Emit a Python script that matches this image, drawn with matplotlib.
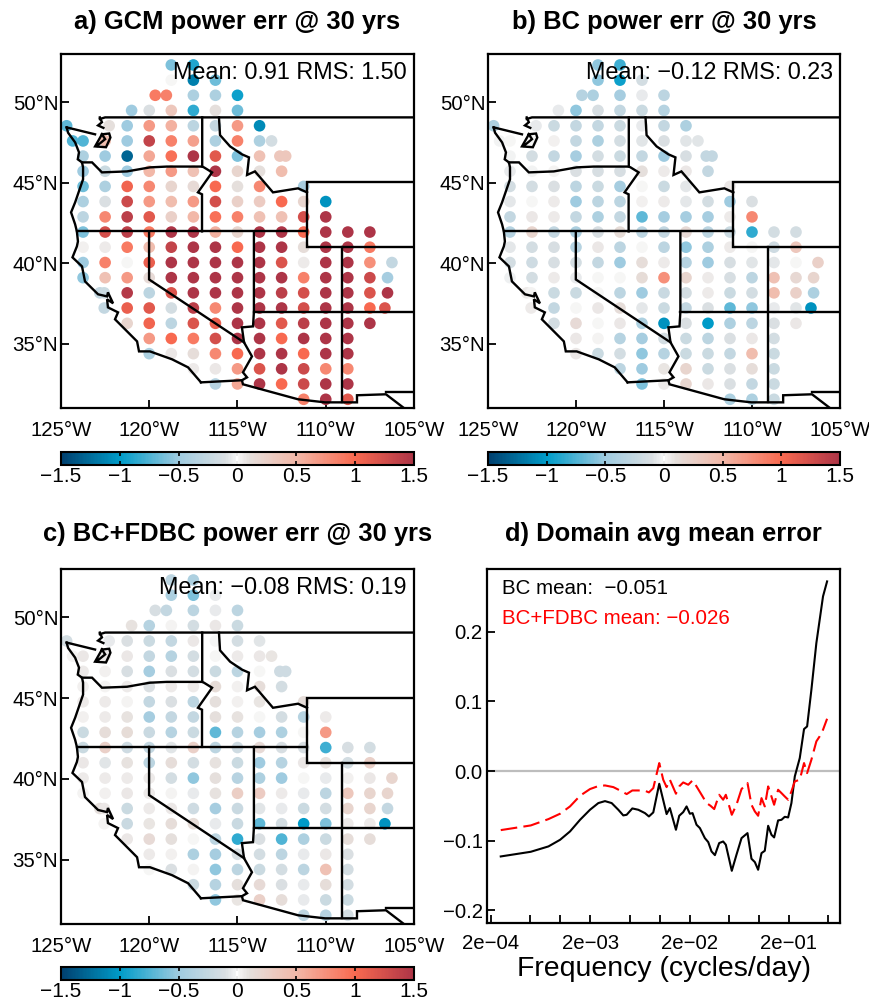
import numpy as np
import matplotlib
matplotlib.use('Agg')
import matplotlib.pyplot as plt
from matplotlib.colors import LinearSegmentedColormap, Normalize
from matplotlib.cm import ScalarMappable

plt.rcParams['font.family'] = ['Liberation Sans', 'DejaVu Sans']

W, H = 870, 1002

# grid rows, north to south
row_lats = [52.30, 51.36, 50.42, 49.48, 48.53, 47.59, 46.65, 45.71, 44.77, 43.83, 42.88, 41.94,
            41.00, 40.05, 39.11, 38.17, 37.23, 36.28, 35.34, 34.40, 33.46, 32.52, 31.57]
mid = [-121.25, -120, -118.75, -117.5, -116.25, -115, -113.75, -112.5, -111.25, -110, -108.75, -107.5]
row_lons = [
    [-118.75, -117.5],
    [-118.75, -117.5, -116.25],
    [-119.66, -119.03, -117.5, -116.25, -115],
    [-121.0, -120, -118.75, -117.5, -116.25, -115],
    [-124.68, -122.27, -121.25, -120, -118.75, -117.5, -116.25, -115, -113.75],
    [-124.34, -123.75, -122.5, -121.25, -120, -118.75, -117.5, -116.25, -115, -113.75, -113.07],
    [-123.75, -122.5, -121.25, -120, -118.75, -117.5, -116.25, -115, -113.75, -112.6, -112.27],
    [-123.75, -122.5, -121.25, -120, -118.75, -117.5, -116.25, -115, -113.75, -112.5],
    [-123.75, -122.5, -121.25, -120, -118.75, -117.5, -116.25, -115, -113.75, -111.25],
    [-123.75, -122.5] + mid[:10],
    [-123.75, -122.5] + mid[:10],
    [-123.75, -122.5] + mid,
    [-123.75, -122.5] + mid,
    [-123.75, -122.5] + mid + [-106.25],
    [-123.75, -122.5] + mid + [-106.5],
    [-122.8, -122.55] + mid + [-106.5],
    [-122.55] + mid + [-106.65],
    mid,
    mid[1:11],
    mid[1:11],
    mid[3:11],
    mid[4:11],
    mid[8:11],
]

gcm_vals = [
    [-0.6, -0.9],
    [0.0, -1.15, -0.65],
    [0.9, 0.85, -0.4, -0.4, -0.95],
    [-0.5, -0.1, 0.35, -0.85, 0.1, -0.65],
    [-0.7, 0.1, -0.5, 0.7, 0.55, -0.3, -0.25, 0.7, -1.1],
    [-0.75, -0.75, 0.45, -0.5, 1.35, 0.85, 0.65, -0.4, 0.85, -0.4, -0.15],
    [-0.4, -0.5, -1.3, 0.6, 0.95, 1.5, 1.15, -0.6, 0.4, 0.35, 0.35],
    [-0.5, -0.2, -0.5, 0.5, 0.7, 0.4, 1.5, 0.2, 0.1, 0.45],
    [-0.65, -0.4, 1.05, 0.8, 0.2, 0.15, 1.0, 0.1, 0.8, -0.45],
    [-0.4, -0.1, 1.3, 0.7, 0.45, 0.7, 1.25, 0.25, 0.3, 1.0, 0.2, -1.05],
    [-0.3, 0.8, 1.4, 1.15, 0.25, 0.5, 0.95, 0.85, 0.4, 0.4, 1.25, 1.5],
    [-0.6, 1.25, 1.4, 0.9, 1.5, 1.5, 0.55, 0.2, 1.5, 1.5, 1.0, 1.5, 1.5, 1.5],
    [0.03, 0.05, 0.9, 0.45, 1.35, 1.5, 1.5, 1.0, 1.5, 1.5, 0.12, 1.5, 1.5, 0.9],
    [-0.5, 0.85, 0.0, 1.1, 1.5, 1.5, 1.5, 1.5, 1.5, 1.2, 0.05, 1.5, 1.5, 0.75, -0.25],
    [-0.55, 0.4, 0.7, 0.15, 1.5, 1.5, 1.5, 1.5, 1.5, 1.5, 0.85, 1.5, 1.5, 1.3, -0.45],
    [-0.25, -0.2, 1.45, -0.3, 1.2, 1.5, 1.5, 1.5, 1.5, 1.4, 1.25, 1.5, 1.5, 1.2, 1.5],
    [-0.25, 1.1, 1.15, -0.15, 1.4, 0.8, 1.5, 1.5, 1.5, 1.25, 1.5, 1.5, 1.0, 1.2],
    [0.2, 1.05, -0.3, 1.2, 1.1, 1.5, 1.5, 1.15, 1.4, 1.5, 1.5, 1.5],
    [0.7, 1.0, 0.9, 1.25, 1.5, 1.5, 1.0, 1.5, 1.5, 1.5],
    [-0.4, 0.07, 0.12, 0.8, 1.0, 1.5, 1.5, 1.0, 1.5, 1.5],
    [0.05, 0.07, 0.7, 1.2, 1.5, 1.3, 0.8, 0.8],
    [-0.35, 0.6, 1.5, 1.0, 1.3, 1.5, 1.5],
    [0.85, 1.5, 1.15],
]

bc_vals = [
    [-0.55, -0.8],
    [-0.55, -0.95, -0.15],
    [-0.35, -0.4, -0.45, -0.05, -0.3],
    [-0.05, -0.55, -0.12, -0.25, -0.2, -0.35],
    [-0.4, -0.05, -0.2, -0.25, -0.25, -0.2, -0.05, -0.25, -0.4],
    [-0.02, 0.01, 0.0, 0.03, -0.25, -0.4, -0.15, -0.08, -0.1, -0.08, -0.08],
    [-0.02, -0.15, -0.25, -0.45, -0.15, -0.2, -0.25, -0.5, -0.12, -0.25, -0.25],
    [-0.05, -0.02, 0.02, -0.1, -0.12, -0.12, 0.1, 0.05, 0.06, -0.25],
    [-0.15, -0.15, -0.1, -0.3, -0.2, -0.45, 0.01, -0.2, -0.06, 0.07],
    [-0.06, 0.01, 0.05, -0.5, -0.3, -0.3, 0.03, 0.05, -0.06, -0.15, -0.5, -0.1],
    [-0.25, 0.07, 0.05, -0.25, -0.4, -0.25, -0.7, -0.45, -0.45, -0.45, 0.05, 0.8],
    [-0.35, 0.2, -0.25, -0.4, -0.12, 0.14, -0.3, -0.25, 0.15, -0.3, -0.2, -0.85, -0.15, -0.15],
    [-0.07, -0.15, -0.12, -0.35, 0.06, -0.3, 0.01, -0.3, -0.55, -0.4, 0.05, 0.01, -0.18, 0.35],
    [-0.15, -0.18, -0.12, -0.15, -0.25, -0.5, 0.12, 0.05, -0.35, -0.5, -0.12, -0.08, -0.07, 0.01, 0.25],
    [-0.03, -0.15, 0.05, -0.05, 0.0, 0.0, 0.14, 0.75, 0.2, 0.05, -0.12, -0.3, 0.4, 0.17, 0.2],
    [0.05, 0.02, -0.2, -0.2, 0.0, -0.3, -0.5, -0.22, -0.15, 0.05, -0.2, -0.15, 0.45, 0.25, -0.4],
    [0.05, -0.25, 0.01, 0.07, 0.12, -0.07, -0.2, -0.25, -0.1, -0.7, -0.55, -0.05, -0.08, -1.05],
    [-0.15, 0.15, 0.01, 0.06, -0.4, -1.05, -0.1, -1.0, -0.4, -0.3, -0.1, 0.07],
    [0.07, 0.02, -0.35, -0.45, -0.15, -0.2, -0.3, -0.1, 0.06, -0.15],
    [0.06, -0.2, -0.15, -0.55, -0.35, -0.2, -0.2, -0.25, 0.45, -0.2],
    [-0.3, -0.5, 0.08, 0.2, -0.2, -0.1, 0.12, -0.2],
    [-0.6, 0.05, 0.2, 0.07, -0.1, -0.25, -0.2],
    [-0.4, -0.4, -0.2],
]

fdbc_vals = [
    [-0.3, -0.4],
    [-0.4, -0.6, -0.05],
    [-0.12, -0.25, -0.3, -0.05, -0.3],
    [0.09, -0.35, 0.02, -0.15, 0.06, -0.2],
    [-0.15, -0.05, -0.1, -0.2, -0.25, 0.06, -0.01, -0.15, -0.08],
    [0.02, 0.07, 0.05, 0.07, -0.25, -0.35, -0.15, 0.01, 0.05, 0.07, 0.08],
    [0.05, 0.03, -0.12, -0.45, -0.1, -0.15, -0.2, -0.3, 0.01, -0.18, -0.18],
    [0.03, 0.02, 0.05, -0.1, 0.05, 0.05, 0.14, 0.03, 0.12, -0.15],
    [0.05, 0.05, 0.02, -0.25, -0.1, -0.3, 0.1, 0.03, 0.08, 0.12],
    [0.03, 0.05, 0.09, -0.45, -0.25, -0.25, 0.1, 0.09, 0.0, -0.15, -0.35, 0.05],
    [-0.2, 0.12, 0.14, -0.22, -0.35, -0.2, -0.7, -0.35, -0.45, -0.4, 0.01, 0.7],
    [-0.2, 0.25, -0.18, -0.25, -0.08, 0.25, -0.3, -0.18, 0.15, -0.12, -0.12, -0.8, -0.12, -0.15],
    [0.06, -0.08, 0.09, -0.3, 0.12, -0.15, 0.09, -0.2, -0.5, -0.35, 0.06, 0.09, -0.15, 0.25],
    [0.05, 0.05, 0.05, 0.05, -0.15, -0.55, 0.1, -0.33, -0.4, -0.5, 0.01, -0.05, 0.03, 0.06, 0.2],
    [0.02, 0.03, 0.06, 0.05, 0.02, -0.05, 0.09, 0.28, 0.3, 0.05, -0.05, -0.3, 0.35, 0.2, 0.2],
    [0.1, 0.06, -0.2, 0.05, 0.06, -0.18, -0.45, -0.22, -0.08, -0.05, -0.2, -0.15, 0.2, 0.2, -0.25],
    [0.02, -0.22, 0.08, 0.12, 0.14, -0.05, -0.22, -0.7, -0.15, -1.0, -0.6, 0.05, 0.05, -1.05],
    [0.07, 0.15, 0.1, 0.0, -0.3, -0.85, -0.1, -0.75, -0.4, -0.2, 0.12, 0.12],
    [0.05, 0.03, -0.4, -0.45, -0.12, -0.15, -0.3, -0.05, 0.07, -0.1],
    [0.0, -0.1, 0.02, -0.55, -0.3, -0.2, -0.15, -0.3, 0.4, -0.15],
    [-0.2, -0.35, 0.1, 0.15, -0.1, -0.05, 0.12, -0.15],
    [-0.55, 0.08, 0.25, 0.12, -0.05, -0.2, -0.2],
    [-0.3, -0.35, -0.15],
]

# coast and state lines as (lon, lat)
outlines = [
    # west coast, top to Mexico
    [(-124.68, 48.43), (-124.6, 48.1), (-124.2, 47.5), (-123.98, 46.88), (-124.05, 46.45), (-123.81, 46.26),
     (-123.75, 45.95), (-123.75, 45.21), (-124.2, 43.78), (-124.43, 43.16), (-124.2, 42.42), (-124.1, 41.98),
     (-124.04, 41.36), (-124.1, 41.05), (-124.35, 40.37), (-123.81, 39.81), (-123.64, 38.88), (-122.9, 38.08),
     (-122.39, 37.95), (-122.34, 38.2), (-122.05, 37.52), (-122.39, 37.77), (-122.34, 37.27), (-121.77, 36.96),
     (-121.94, 36.53), (-120.69, 35.16), (-120.58, 34.54), (-119.96, 34.54), (-118.71, 34.05), (-117.8, 33.55),
     (-117.07, 32.62)],
    # strait and sound
    [(-124.68, 48.43), (-123.07, 48.0)],
    [(-122.8, 49.05), (-122.68, 48.75), (-122.9, 48.55), (-122.6, 48.4)],
    [(-122.68, 48.0), (-122.27, 48.05), (-122.2, 47.8), (-122.45, 47.2), (-123.07, 47.25), (-122.68, 48.0),
     (-122.5, 47.7), (-122.95, 47.3)],
    # Canada border
    [(-122.8, 48.95), (-122.5, 49.05), (-105, 49.05)],
    # Washington / Oregon / Idaho
    [(-123.81, 46.26), (-123.24, 46.26), (-122.68, 45.64), (-121.26, 45.7), (-119.96, 45.95), (-119.0, 46.0),
     (-117.01, 46.0)],
    [(-117.0, 49.05), (-117.0, 46.0), (-116.9, 45.95), (-116.44, 45.64), (-117.24, 44.4), (-117.01, 44.28),
     (-117.01, 41.98)],
    # 42N
    [(-124.1, 41.98), (-111.06, 41.98)],
    # Idaho / Montana / Wyoming
    [(-116.05, 49.05), (-115.99, 47.95), (-115.42, 47.25), (-114.75, 46.76), (-114.35, 46.57), (-114.46, 45.48),
     (-114.01, 45.7), (-112.99, 44.4), (-111.57, 44.65), (-111.06, 44.4)],
    # Wyoming box
    [(-105, 45.02), (-111.06, 45.02), (-111.06, 40.99), (-105, 40.99)],
    # Nevada / California
    [(-120.01, 41.98), (-120.01, 39.0), (-114.63, 35.1)],
    # Nevada / Utah / Arizona
    [(-114.07, 41.98), (-114.07, 37.0), (-114.12, 36.09), (-114.75, 36.03), (-114.63, 35.1), (-114.18, 34.23),
     (-114.69, 33.24), (-114.46, 32.93), (-114.75, 32.75)],
    # 37N
    [(-114.07, 36.98), (-105, 36.98)],
    # Colorado / New Mexico
    [(-109.08, 40.99), (-109.08, 31.38)],
    # Mexico border
    [(-117.07, 32.62), (-114.75, 32.75), (-114.69, 32.5), (-111.57, 31.57), (-110.04, 31.38), (-108.23, 31.38),
     (-108.23, 31.82), (-106.59, 31.88), (-105.62, 31.07)],
    [(-106.59, 32.0), (-105, 32.0)],
]

# panel d, log10 of frequency and mean error
bc_logf = [-3.599, -3.297, -3.119, -3.002, -2.902, -2.801, -2.701, -2.617, -2.550, -2.483, -2.416, -2.366, -2.332,
           -2.275, -2.215, -2.148, -2.108, -2.064, -2.004, -1.930, -1.897, -1.836, -1.803, -1.763, -1.729, -1.696,
           -1.669, -1.629, -1.595, -1.545, -1.511, -1.478, -1.444, -1.401, -1.361, -1.334, -1.274, -1.227, -1.176,
           -1.116, -1.076, -1.042, -1.009, -0.975, -0.942, -0.908, -0.875, -0.848, -0.808, -0.774, -0.741, -0.707,
           -0.674, -0.640, -0.590, -0.547, -0.516, -0.473, -0.423, -0.356, -0.315]
bc_err = [-0.1225, -0.1158, -0.1081, -0.0986, -0.0866, -0.0699, -0.0555, -0.0459, -0.0431, -0.0459, -0.0555, -0.0636,
          -0.0627, -0.0536, -0.0555, -0.0603, -0.0651, -0.0593, -0.0182, -0.0617, -0.0531, -0.0842, -0.0641, -0.0589,
          -0.0507, -0.0612, -0.0603, -0.0770, -0.0818, -0.0962, -0.1019, -0.1153, -0.1206, -0.1033, -0.1010, -0.1057,
          -0.1431, -0.1201, -0.0962, -0.0890, -0.1258, -0.1306, -0.1416, -0.1177, -0.1144, -0.0785, -0.0914, -0.0952,
          -0.0708, -0.0699, -0.0656, -0.0665, -0.0459, -0.0077, 0.0187, 0.0603, 0.0641, 0.1167, 0.1837, 0.2507, 0.2722]
fdbc_logf = [-3.599, -3.297, -3.119, -3.002, -2.902, -2.801, -2.701, -2.617, -2.550, -2.466, -2.399, -2.332, -2.275,
             -2.215, -2.148, -2.108, -2.064, -2.004, -1.964, -1.930, -1.897, -1.836, -1.803, -1.763, -1.712, -1.669,
             -1.629, -1.578, -1.528, -1.488, -1.451, -1.401, -1.361, -1.334, -1.274, -1.227, -1.176, -1.116, -1.076,
             -1.042, -1.009, -0.975, -0.942, -0.908, -0.875, -0.848, -0.808, -0.774, -0.741, -0.707, -0.674, -0.640,
             -0.590, -0.547, -0.516, -0.473, -0.423, -0.390, -0.356, -0.315]
fdbc_err = [-0.0847, -0.0780, -0.0689, -0.0612, -0.0507, -0.0354, -0.0258, -0.0215, -0.0206, -0.0230, -0.0278, -0.0330,
            -0.0278, -0.0278, -0.0282, -0.0306, -0.0244, 0.0115, -0.0124, -0.0230, -0.0124, -0.0325, -0.0220, -0.0163,
            -0.0196, -0.0134, -0.0220, -0.0340, -0.0459, -0.0498, -0.0545, -0.0340, -0.0411, -0.0340, -0.0627, -0.0483,
            -0.0258, -0.0172, -0.0483, -0.0579, -0.0641, -0.0388, -0.0507, -0.0220, -0.0364, -0.0483, -0.0268, -0.0316,
            -0.0364, -0.0411, -0.0292, -0.0148, -0.0124, 0.0115, -0.0029, 0.0163, 0.0426, 0.0498, 0.0593, 0.0751]

lon_ticks = [-125, -120, -115, -110, -105]
lon_labels = ['125°W', '120°W', '115°W', '110°W', '105°W']
lat_ticks = [35, 40, 45, 50]
lat_labels = ['35°N', '40°N', '45°N', '50°N']
cb_ticks = [-1.5, -1, -0.5, 0, 0.5, 1, 1.5]
cb_labels = ['−1.5', '−1', '−0.5', '0', '0.5', '1', '1.5']

cmap = LinearSegmentedColormap.from_list('err', [(0, '#00406f'), (1 / 6, '#009cc9'), (1 / 3, '#9fcbe0'),
                                                 (0.4667, '#dadfe2'), (0.5, '#f7f7f7'), (0.5333, '#e5dfdc'),
                                                 (2 / 3, '#f2b8a8'), (5 / 6, '#f96a50'), (1, '#ad3547')])
norm = Normalize(-1.5, 1.5)

fig = plt.figure(figsize=(W / 100, H / 100), dpi=100)


def px_axes(left, top, right, bottom):
    return fig.add_axes([left / W, 1 - bottom / H, (right - left) / W, (bottom - top) / H])


def map_panel(box, cbar_box, vals, title, stats, title_pad):
    ax = px_axes(*box)
    for lat, lons, row in zip(row_lats, row_lons, vals, strict=True):
        ax.scatter(lons, [lat] * len(lons), c=row, cmap=cmap, norm=norm, s=70, linewidths=0, zorder=2,
                   clip_on=False)
    for line in outlines:
        xs, ys = zip(*line)
        ax.plot(xs, ys, color='black', lw=1.7, zorder=3, solid_joinstyle='miter')
    ax.set_xlim(-125, -105)
    ax.set_ylim(31.03, 52.98)
    ax.set_xticks(lon_ticks, lon_labels)
    ax.set_yticks(lat_ticks, lat_labels)
    ax.tick_params(direction='in', length=5.5, width=1.3, labelsize=14.7)
    ax.tick_params(axis='x', pad=9.5)
    ax.tick_params(axis='y', pad=2)
    for s in ax.spines.values():
        s.set_linewidth(1.6)
    ax.set_title(title, fontsize=18.4, fontweight='bold', pad=title_pad)
    ax.text(0.98, 0.949, stats, transform=ax.transAxes, ha='right', va='center', fontsize=16.8, zorder=5)

    cax = px_axes(*cbar_box)
    cb = fig.colorbar(ScalarMappable(norm=norm, cmap=cmap), cax=cax, orientation='horizontal')
    cb.set_ticks(cb_ticks, labels=cb_labels)
    cax.tick_params(direction='in', length=3, width=1.2, top=True, bottom=True, labelsize=15, pad=1.5)
    cax.axvline(0, color='white', lw=1.3)
    cb.outline.set_linewidth(1.5)
    return ax


map_panel((61, 54, 414, 408), (61, 452, 414, 465), gcm_vals, 'a) GCM power err @ 30 yrs', 'Mean: 0.91 RMS: 1.50', 18)
map_panel((488, 54, 840, 408), (488, 452, 840, 465), bc_vals, 'b) BC power err @ 30 yrs', 'Mean: −0.12 RMS: 0.23', 18)
map_panel((61, 569, 414, 924), (61, 967, 414, 980), fdbc_vals, 'c) BC+FDBC power err @ 30 yrs',
          'Mean: −0.08 RMS: 0.19', 20)

# panel d
ax = px_axes(487.5, 569, 840, 923)
ax.axhline(0, color='#bdbdbd', lw=1.6, zorder=1)
ax.plot(10 ** np.array(bc_logf), bc_err, color='black', lw=1.5, zorder=2)
ax.plot(10 ** np.array(fdbc_logf), fdbc_err, color='red', lw=1.5, ls=(0, (8, 3)), zorder=3)
ax.set_xscale('log')
ax.set_xlim(1.852e-4, 0.653)
ax.set_ylim(-0.218, 0.29)
ax.set_xticks([2e-4, 5e-4, 1e-3, 2e-3, 5e-3, 1e-2, 2e-2, 5e-2, 1e-1, 2e-1, 5e-1],
              ['2e−04', '', '', '2e−03', '', '', '2e−02', '', '', '2e−01', ''])
ax.minorticks_off()
ax.set_yticks([-0.2, -0.1, 0, 0.1, 0.2], ['−0.2', '−0.1', '0.0', '0.1', '0.2'])
ax.tick_params(direction='in', length=5.5, width=1.3, labelsize=14.7)
ax.tick_params(axis='x', pad=8)
ax.tick_params(axis='y', pad=3.5)
for s in ax.spines.values():
    s.set_linewidth(1.6)
ax.set_title('d) Domain avg mean error', fontsize=18.4, fontweight='bold', pad=20)
ax.set_xlabel('Frequency (cycles/day)', fontsize=20.4, labelpad=2)
ax.text(0.04, 0.944, 'BC mean:  −0.051', transform=ax.transAxes, va='center', fontsize=14.8, color='black')
ax.text(0.04, 0.86, 'BC+FDBC mean: −0.026', transform=ax.transAxes, va='center', fontsize=14.8, color='red')

fig.savefig('out.png', dpi=100)
